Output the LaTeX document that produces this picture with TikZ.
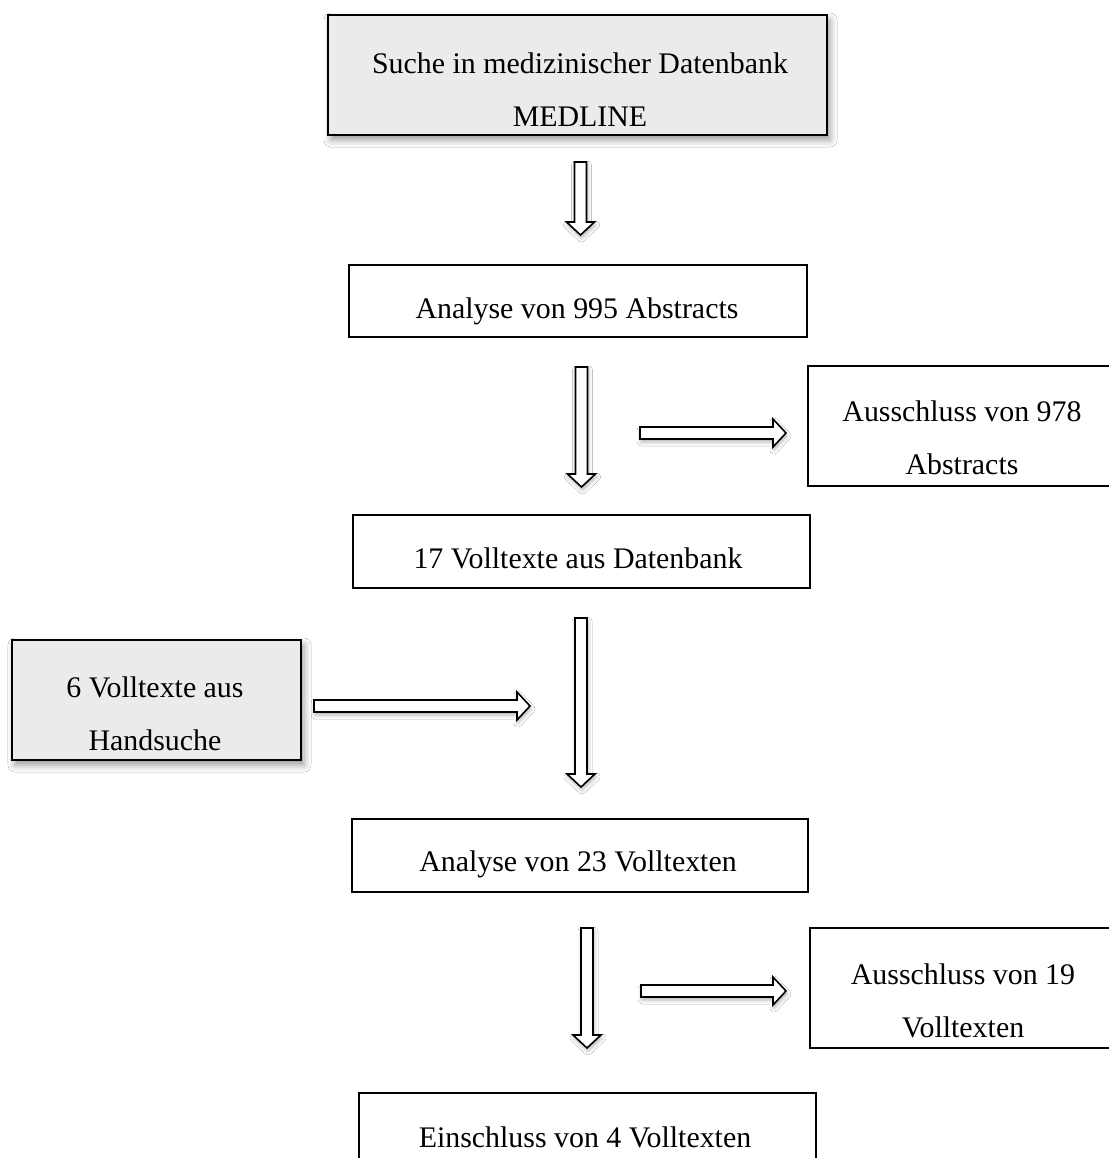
\documentclass[tikz,border=0pt]{standalone}
\usepackage{fontspec}
\setmainfont{Liberation Serif}
\usetikzlibrary{calc,shadows.blur}

\definecolor{boxgray}{HTML}{EBEBEB}

\tikzset{
  frame/.style={draw=black, line width=1.6bp, fill=white, inner sep=0pt},
  shadedframe/.style={frame, fill=boxgray,
    blur shadow={shadow xshift=3bp, shadow yshift=-5bp,
                 shadow blur radius=7bp, shadow opacity=40}},
  boxtext/.style={font=\fontsize{30}{53}\selectfont, align=center, inner sep=0pt},
  blockarrow/.style={draw=black, line width=1.6bp, fill=white, line join=miter,
    blur shadow={shadow xshift=1bp, shadow yshift=-3bp,
                 shadow blur radius=4bp, shadow opacity=30}}
}

% hollow block arrow pointing down, from top centre #1 to tip #2
\newcommand\blockdown[2]{%
  \path[blockarrow] let \p1=(#1), \p2=(#2) in
    (\x1-6bp,\y1) -- (\x1+6bp,\y1) -- (\x1+6bp,\y2+13bp) -- (\x1+14bp,\y2+13bp)
    -- (\x1,\y2) -- (\x1-14bp,\y2+13bp) -- (\x1-6bp,\y2+13bp) -- cycle;}

% hollow block arrow pointing right, from left centre #1 to tip #2
\newcommand\blockright[2]{%
  \path[blockarrow] let \p1=(#1), \p2=(#2) in
    (\x1,\y1+6bp) -- (\x2-13bp,\y1+6bp) -- (\x2-13bp,\y1+14bp) -- (\x2,\y1)
    -- (\x2-13bp,\y1-14bp) -- (\x2-13bp,\y1-6bp) -- (\x1,\y1-6bp) -- cycle;}

\begin{document}
\begin{tikzpicture}[x=1bp,y=-1bp]
  \useasboundingbox (0,0) rectangle (1109,1158);
  \fill[white] (0,0) rectangle (1109,1158);
  \clip (0,0) rectangle (1109,1158);

  % boxes
  \node[shadedframe, minimum width=499bp, minimum height=120bp] (search) at (577.5,75) {};
  \node[frame, minimum width=458bp, minimum height=72bp] (abstracts) at (578,301) {};
  \node[frame, minimum width=308bp, minimum height=120bp] (exclabs) at (962,426) {};
  \node[frame, minimum width=457bp, minimum height=73bp] (fulldb) at (581.5,551.5) {};
  \node[shadedframe, minimum width=289bp, minimum height=120bp] (hand) at (156.5,700) {};
  \node[frame, minimum width=456bp, minimum height=73bp] (fullall) at (580,855.5) {};
  \node[frame, minimum width=306bp, minimum height=120bp] (exclfull) at (963,988) {};
  \node[frame, minimum width=457bp, minimum height=73bp] (incl) at (587.5,1129.5) {};

  % box labels
  \node[boxtext] (searchtext) at (580,89.5) {Suche in medizinischer Datenbank\\MEDLINE};
  \node[boxtext] (abstractstext) at (577,311) {Analyse von 995 Abstracts};
  \node[boxtext] (exclabstext) at (962,438) {Ausschluss von 978\\Abstracts};
  \node[boxtext] (fulldbtext) at (578,558) {17 Volltexte aus Datenbank};
  \node[boxtext] (handtext) at (155,714) {6 Volltexte aus\\Handsuche};
  \node[boxtext] (fullalltext) at (578,864) {Analyse von 23 Volltexten};
  \node[boxtext] (exclfulltext) at (963,1001) {Ausschluss von 19\\Volltexten};
  \node[boxtext] (incltext) at (585,1137) {Einschluss von 4 Volltexten};

  % arrow end points
  \coordinate (a1s) at (580.5,162);  \coordinate (a1e) at (580.5,235);
  \coordinate (a2s) at (581.5,367);  \coordinate (a2e) at (581.5,487);
  \coordinate (a3s) at (581,618);    \coordinate (a3e) at (581,787);
  \coordinate (a4s) at (587,928);    \coordinate (a4e) at (587,1048);
  \coordinate (h1s) at (640,433);    \coordinate (h1e) at (786,433);
  \coordinate (h2s) at (314,706);    \coordinate (h2e) at (530,706);
  \coordinate (h3s) at (641,991);    \coordinate (h3e) at (786,991);

  % arrows
  \blockdown{a1s}{a1e}
  \blockdown{a2s}{a2e}
  \blockdown{a3s}{a3e}
  \blockdown{a4s}{a4e}
  \blockright{h1s}{h1e}
  \blockright{h2s}{h2e}
  \blockright{h3s}{h3e}
\end{tikzpicture}
\end{document}
